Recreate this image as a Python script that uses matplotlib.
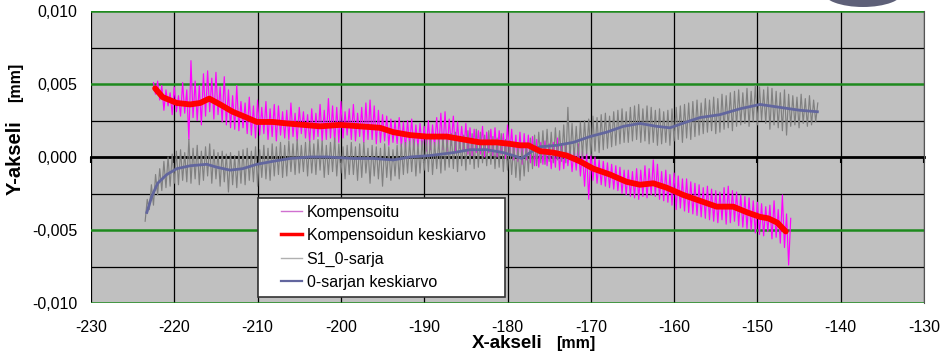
import numpy as np
import matplotlib
matplotlib.use("Agg")
import matplotlib.pyplot as plt
from matplotlib.lines import Line2D
from matplotlib.legend_handler import HandlerLine2D
from matplotlib.patches import Ellipse
from matplotlib.transforms import IdentityTransform

plt.rcParams['font.family'] = ['Liberation Sans', 'DejaVu Sans']

# ---------------- data (values in micrometres, converted to mm) ----------------
# Kompensoitu: raw compensated measurement, x from -222.5 to -146.0 mm
komp_x_range = (-222.5, -146.0)
komp_um = [
    5.1, 4.3, 5.2, 3.9, 4.9, 3.2, 4.6, 3.5, 4.4, 2.9, 4.8, 3.1, 4.2, 2.8, 5.1, 3.0,
    4.6, 1.2, 6.6, 2.7, 5.2, 2.5, 4.9, 2.2, 5.7, 2.8, 5.9, 3.1, 5.4, 2.6, 5.8, 2.9,
    4.8, 2.4, 5.5, 2.2, 4.6, 2.0, 4.2, 1.9, 4.9, 1.8, 3.8, 2.0, 3.7, 1.6, 4.1, 1.5,
    3.5, 1.3, 3.9, 1.5, 3.4, 1.6, 3.8, 1.2, 3.3, 1.4, 3.6, 1.1, 3.5, 1.5, 3.1, 1.3,
    3.2, 1.2, 3.7, 1.4, 3.0, 1.1, 3.4, 1.6, 3.1, 1.3, 2.9, 1.0, 3.3, 1.2, 3.0, 1.4,
    3.6, 1.1, 3.2, 1.2, 4.0, 1.3, 3.5, 1.0, 3.4, 1.0, 3.8, 1.3, 3.1, 1.5, 3.3, 1.2,
    3.6, 1.1, 3.0, 1.4, 3.4, 1.0, 3.7, 1.2, 3.9, 1.2, 3.5, 0.9, 3.2, 1.0, 2.9, 1.1,
    2.8, 0.8, 2.6, 1.0, 2.5, 0.9, 2.7, 0.7, 2.4, 0.6, 2.5, 0.8, 2.6, 0.5, 2.2, 0.7,
    2.3, 0.6, 2.1, 0.4, 2.5, 0.5, 2.2, 0.7, 2.7, 0.6, 3.0, 0.5, 3.1, 0.4, 2.6, 0.8,
    2.8, 0.3, 2.4, 0.6, 2.1, 0.4, 2.3, 0.2, 2.0, 0.1, 1.9, 0.3, 1.8, 0.2, 2.1, 0.0,
    1.7, 0.3, 1.9, 0.1, 2.0, 0.0, 1.8, 0.2, 1.6, -0.1, 2.2, 0.1, 1.9, -0.2, 1.5, -0.3,
    1.7, -0.5, 1.6, -0.2, 1.5, -0.4, 1.4, -0.6, 1.2, -0.7, 1.0, -0.5, 1.1, -0.6, 0.9, -0.8,
    1.0, -0.7, 1.3, -0.9, 0.9, -0.8, 0.8, -0.6, 0.7, -1.0, 0.6, -0.9, 0.9, -1.3, 0.4, -2.0,
    0.3, -2.9, 0.2, -1.6, 0.0, -1.8, -0.2, -1.9, -0.3, -2.0, -0.4, -2.1, -0.5, -2.2, -0.6, -2.3,
    -0.7, -2.5, -0.9, -2.6, -0.9, -2.7, -1.0, -2.8, -0.8, -2.9, -0.9, -2.7, -0.6, -2.8, -0.8, -2.6,
    -0.2, -2.7, -0.5, -2.9, -1.0, -3.0, -0.9, -3.1, -1.2, -3.3, -1.1, -3.6, -1.3, -3.5, -1.5, -3.7,
    -1.5, -3.8, -1.7, -3.9, -1.8, -4.0, -1.9, -4.1, -2.1, -4.2, -2.0, -4.3, -2.2, -4.4, -2.3, -4.5,
    -2.4, -4.3, -2.1, -4.6, -2.0, -4.5, -2.3, -4.4, -2.4, -4.7, -2.6, -4.8, -2.7, -4.9, -2.8, -5.0,
    -3.0, -5.2, -3.1, -5.3, -3.2, -5.4, -3.4, -5.1, -3.3, -5.6, -3.0, -5.5, -3.6, -5.9, -2.6, -6.2,
    -3.9, -7.4, -4.2,
]

# Kompensoidun keskiarvo: smoothed mean of compensated series
komp_mean_x = [-222.3, -221.4, -219.7, -218.1, -216.9, -215.8, -214.5, -213.0, -211.3, -210.1,
               -208.2, -206.5, -204.5, -202.5, -200.1, -197.7, -195.3, -193.7, -191.7, -189.7,
               -187.3, -185.3, -183.3, -181.3, -179.7, -178.5, -177.5, -176.1, -174.5, -172.9,
               -171.3, -169.7, -167.7, -165.7, -164.1, -162.5, -160.9, -158.9, -156.9, -154.9,
               -152.9, -151.2, -149.7, -148.7, -147.6, -146.6]
komp_mean_um = [4.7, 4.1, 3.7, 3.6, 3.7, 4.0, 3.6, 3.1, 2.7, 2.4,
                2.4, 2.3, 2.2, 2.1, 2.2, 2.1, 2.0, 1.7, 1.5, 1.4,
                1.4, 1.2, 1.0, 1.0, 0.9, 0.8, 0.8, 0.4, 0.3, 0.1,
                -0.3, -0.8, -1.2, -1.7, -1.9, -1.8, -2.1, -2.6, -3.0, -3.4,
                -3.4, -3.8, -4.1, -4.2, -4.5, -5.1]

# S1_0-sarja: zero series raw, x from -223.5 to -142.75 mm
zero_x_range = (-223.5, -142.75)
zero_um = [
    -4.4, -2.9, -3.6, -1.9, -3.3, -1.2, -2.6, -0.8, -2.3, -0.3, -2.1, 0.0, -2.0, 0.2, -1.8, 0.4,
    -1.9, 0.5, -1.6, 0.3, -1.7, 1.2, -1.8, 0.6, -1.5, 0.8, -1.9, 0.4, -1.6, 0.7, -1.3, 0.9,
    -1.8, 0.5, -1.5, 0.3, -2.0, 0.4, -1.7, 0.2, -2.4, 0.3, -1.9, 0.1, -2.1, 0.4, -1.8, 0.5,
    -1.9, 0.6, -1.6, 0.4, -1.7, 0.7, -2.0, 0.5, -1.4, 0.8, -1.5, 0.6, -1.6, 0.9, -1.3, 0.7,
    -1.2, 1.0, -1.4, 0.8, -1.3, 1.1, -1.0, 0.9, -1.2, 1.2, -1.1, 0.8, -1.0, 1.0, -1.3, 1.1,
    -1.1, 0.9, -1.2, 1.2, -0.9, 1.1, -1.4, 0.8, -1.2, 1.0, -1.0, 1.3, -1.3, 0.9, -1.1, 0.7,
    -1.5, 0.8, -1.2, 1.0, -1.2, 0.7, -1.6, 0.9, -1.4, 1.0, -1.1, 0.6, -1.8, 0.8, -1.3, 0.7,
    -1.5, 0.6, -2.0, 0.9, -1.4, 0.7, -1.6, 0.5, -1.3, 0.8, -1.5, 0.9, -1.2, 1.0, -1.1, 1.1,
    -1.0, 1.2, -1.3, 0.9, -1.1, 1.1, -0.9, 1.3, -1.0, 1.4, -1.2, 1.0, -0.8, 1.2, -1.1, 1.5,
    -0.9, 1.3, -0.7, 1.6, -0.8, 1.7, -1.0, 1.4, -0.6, 1.5, -0.9, 1.8, -0.5, 1.6, -0.8, 1.9,
    -0.7, 1.7, -0.4, 1.5, -0.6, 1.8, -0.5, 1.4, -0.8, 1.3, -0.7, 1.6, -1.0, 1.2, -0.9, 1.1,
    -1.2, 1.0, -1.4, 0.8, -1.6, 0.7, -1.3, 0.9, -1.0, 1.3, -0.8, 1.5, -0.6, 1.7, -0.4, 1.8,
    -0.5, 1.9, -0.3, 1.7, -0.4, 2.0, -0.2, 1.8, -0.3, 2.2, -0.4, 3.4, -0.2, 2.3, -0.1, 2.1,
    -0.1, 2.4, 0.0, 2.5, 0.2, 2.6, 0.1, 2.8, 0.4, 2.7, 0.3, 2.9, 0.5, 3.0, 0.6, 2.8,
    0.7, 3.1, 0.8, 3.2, 0.9, 3.3, 1.0, 3.1, 1.0, 3.4, 1.1, 3.5, 1.2, 3.6, 1.0, 3.3,
    1.1, 3.5, 0.9, 3.4, 1.0, 3.2, 0.8, 3.3, 0.9, 3.1, 1.0, 3.2, 0.8, 3.3, 1.1, 3.4,
    1.2, 3.5, 1.0, 3.6, 1.3, 3.7, 1.2, 3.8, 1.4, 3.9, 1.5, 3.7, 1.6, 4.0, 1.7, 3.9,
    1.8, 4.1, 1.6, 4.0, 1.7, 4.3, 1.9, 4.2, 2.0, 4.4, 1.8, 4.5, 2.1, 4.6, 2.2, 4.4,
    2.3, 4.7, 2.1, 4.5, 2.4, 4.9, 2.2, 4.8, 2.5, 4.6, 2.3, 4.8, 1.9, 4.7, 2.2, 4.5,
    2.0, 4.4, 1.8, 4.6, 1.5, 4.3, 2.1, 4.2, 2.2, 4.1, 2.0, 4.3, 2.3, 4.0, 2.1, 4.2,
    2.2, 3.9, 2.4, 3.7,
]

# 0-sarjan keskiarvo: smoothed mean of zero series
zero_mean_x = [-223.3, -222.7, -222.0, -220.9, -219.7, -218.1, -216.1, -214.9, -213.3, -211.8,
               -210.1, -208.2, -206.1, -203.7, -201.7, -198.5, -196.1, -193.7, -191.7, -189.3,
               -186.5, -184.5, -182.5, -180.5, -179.3, -178.3, -177.3, -176.1, -174.1, -172.1,
               -170.1, -168.1, -166.1, -164.1, -162.1, -160.5, -158.5, -156.9, -154.5, -152.1,
               -149.7, -147.3, -144.9, -142.8]
zero_mean_um = [-3.8, -2.7, -1.8, -1.2, -0.8, -0.6, -0.5, -0.7, -0.9, -0.8,
                -0.5, -0.3, -0.1, 0.0, 0.0, -0.1, -0.1, -0.2, 0.0, 0.1,
                0.3, 0.5, 0.5, 0.3, 0.1, -0.1, 0.3, 0.7, 0.8, 1.0,
                1.4, 1.7, 2.1, 2.3, 2.1, 2.0, 2.4, 2.7, 2.9, 3.3,
                3.6, 3.4, 3.2, 3.1]

series_labels = ["Kompensoitu", "Kompensoidun keskiarvo", "S1_0-sarja", "0-sarjan keskiarvo"]

x_ticks = [-230, -220, -210, -200, -190, -180, -170, -160, -150, -140, -130]
y_ticks = [-0.010, -0.005, 0.0, 0.005, 0.010]
y_tick_labels = ["-0,010", "-0,005", "0,000", "0,005", "0,010"]
y_minor_ticks = [-0.0075, -0.0025, 0.0025, 0.0075]

# ---------------- figure ----------------
W, H = 944, 358
fig = plt.figure(figsize=(W / 100, H / 100), dpi=100)
ax = fig.add_axes([91 / W, 55 / H, 833 / W, 292 / H])
ax.set_facecolor('#C0C0C0')

komp_y = np.array(komp_um) / 1000.0
komp_x = np.linspace(komp_x_range[0], komp_x_range[1], len(komp_y))
zero_y = np.array(zero_um) / 1000.0
zero_x = np.linspace(zero_x_range[0], zero_x_range[1], len(zero_y))

# grid
for xv in x_ticks:
    ax.axvline(xv, color='black', lw=0.9, zorder=1)
for yv in y_minor_ticks:
    ax.axhline(yv, color='black', lw=0.9, zorder=1)
for yv in y_ticks:
    if yv != 0:
        ax.axhline(yv, color='#1E8A1E', lw=1.8, zorder=1)

c_pink, c_red, c_gray, c_blue = '#FF00FF', '#FF0000', '#808080', '#62669E'
ax.plot(komp_x, komp_y, color=c_pink, lw=0.85, zorder=3)
ax.plot(zero_x, zero_y, color=c_gray, lw=0.85, zorder=4)
ax.plot(np.array(zero_mean_x), np.array(zero_mean_um) / 1000.0, color=c_blue, lw=2.0, zorder=5)
ax.plot(np.array(komp_mean_x), np.array(komp_mean_um) / 1000.0, color=c_red, lw=4.2,
        solid_capstyle='round', solid_joinstyle='round', zorder=6)

ax.set_xlim(x_ticks[0], x_ticks[-1])
ax.set_ylim(y_ticks[0], y_ticks[-1])

# zero axis with tick marks
ax.spines['bottom'].set_position(('data', 0))
ax.spines['bottom'].set_color('black')
ax.spines['bottom'].set_linewidth(2.0)
ax.spines['bottom'].set_zorder(2)
ax.set_xticks(x_ticks)
ax.tick_params(axis='x', direction='out', length=4, width=1.5, labelbottom=False, color='black')
for s in ['top', 'left']:
    ax.spines[s].set_visible(False)
ax.spines['right'].set_color('#555555')
ax.spines['right'].set_linewidth(0.8)

sec = ax.secondary_xaxis(0.0)
sec.set_xticks(x_ticks)
sec.set_xticklabels([str(v) for v in x_ticks])
sec.tick_params(axis='x', length=0, pad=12, labelsize=11.5)
sec.spines['bottom'].set_visible(False)

ax.set_yticks(y_ticks)
ax.set_yticklabels(y_tick_labels)
ax.tick_params(axis='y', length=0, pad=10, labelsize=11.5)

# labels
fig.text(15 / W, 1 - 195 / H, "Y-akseli", rotation=90, ha='center', va='bottom',
         fontsize=14.5, fontweight='bold')
fig.text(16 / W, 1 - 63 / H, "[mm]", rotation=90, ha='center', va='top',
         fontsize=11.5, fontweight='bold')
fig.text(472 / W, 1 - 348 / H, "X-akseli", ha='left', va='baseline',
         fontsize=13.5, fontweight='bold')
fig.text(556 / W, 1 - 348 / H, "[mm]", ha='left', va='baseline',
         fontsize=11.5, fontweight='bold')

# legend
handles = [Line2D([], [], color='#D070D0', lw=1.0),
           Line2D([], [], color=c_red, lw=2.5),
           Line2D([], [], color='#B0B0B0', lw=1.0),
           Line2D([], [], color=c_blue, lw=1.6)]
leg = ax.legend(handles, series_labels, loc='lower left', mode='expand',
                bbox_to_anchor=(167 / 833, 6 / 292, 247 / 833, 0.0), borderaxespad=0,
                fontsize=11.5, frameon=True, fancybox=False, framealpha=1,
                edgecolor='#333333', handlelength=2.3, handletextpad=0.3,
                borderpad=0.45, labelspacing=0.52,
                handler_map={Line2D: HandlerLine2D(xpad=1.0)})
leg.get_frame().set_linewidth(1.2)
leg.set_zorder(10)

# decorative dark oval at top right (partially cropped)
oval = Ellipse((863, H + 8), 80, 30, transform=IdentityTransform(),
               facecolor='#5E6078', edgecolor='none')
fig.patches.append(oval)

fig.savefig('out.png', dpi=100)
